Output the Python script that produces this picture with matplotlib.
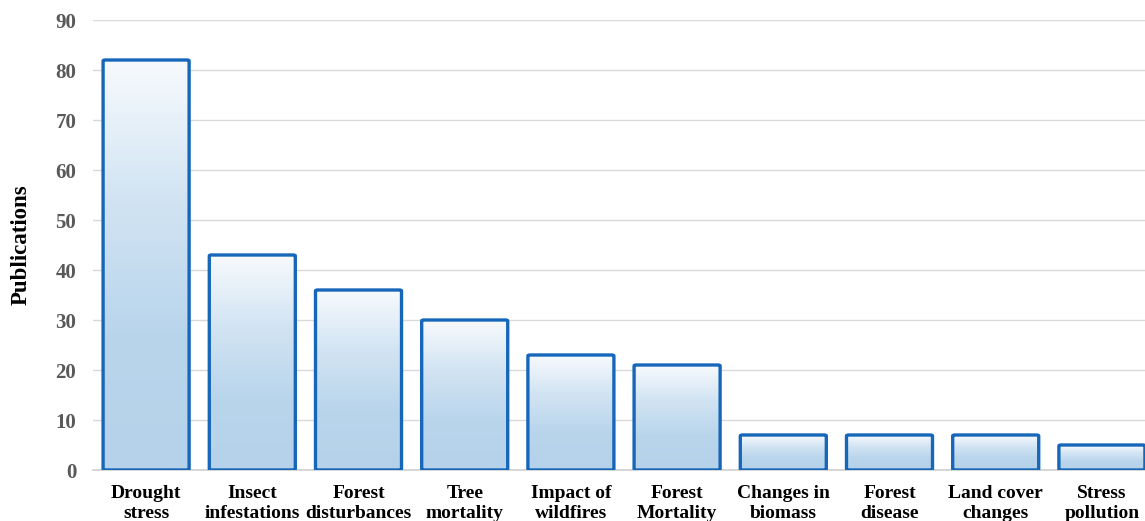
import matplotlib
matplotlib.use('Agg')

import matplotlib.pyplot as plt
import numpy as np
from matplotlib.patches import FancyBboxPatch
from matplotlib.colors import LinearSegmentedColormap

# ---- data ----
categories = ["Drought\nstress", "Insect\ninfestations", "Forest\ndisturbances",
              "Tree\nmortality", "Impact of\nwildfires", "Forest\nMortality",
              "Changes in\nbiomass", "Forest\ndisease", "Land cover\nchanges",
              "Stress\npollution"]
publications = [82, 43, 36, 30, 23, 21, 7, 7, 7, 5]
y_ticks = [0, 10, 20, 30, 40, 50, 60, 70, 80, 90]

plt.rcParams['font.family'] = ['Liberation Serif', 'DejaVu Serif']

W, H = 1145, 521
fig = plt.figure(figsize=(W / 100, H / 100), dpi=100)
# axes runs slightly off the right edge, like the cropped original
ax = fig.add_axes([93 / W, 51 / H, 1062 / W, 450 / H])

x = np.arange(len(categories))

# gradient: white on top, light blue lower down
grad = LinearSegmentedColormap.from_list(
    "bar", ["#b6d2ea", "#b9d5ec", "#d2e4f3", "#f7fafd"])
img = np.linspace(0, 1, 256).reshape(-1, 1)

bw = 0.81
for xi, v in zip(x, publications):
    box = FancyBboxPatch((xi - bw / 2, 0), bw, v,
                         boxstyle="round,pad=0,rounding_size=0.02",
                         facecolor="none", edgecolor="#1667b9",
                         linewidth=2.4, zorder=4, mutation_aspect=10)
    ax.add_patch(box)
    im = ax.imshow(img, cmap=grad, aspect="auto", origin="lower",
                   extent=(xi - bw / 2, xi + bw / 2, 0, v), zorder=3)
    im.set_clip_path(box)

ax.set_xlim(-0.5, len(categories) - 0.5)
ax.set_ylim(0, 90)

ax.set_yticks(y_ticks)
ax.yaxis.grid(True, color="#d9d9d9", linewidth=1.0)
ax.set_axisbelow(True)
for s in ["top", "right", "left"]:
    ax.spines[s].set_visible(False)
ax.spines["bottom"].set_color("#d0d0d0")
ax.spines["bottom"].set_linewidth(1.2)

ax.set_xticks(x)
ax.set_xticklabels(categories, fontsize=14, fontweight="bold", color="black",
                   linespacing=1.2)
ax.tick_params(axis="x", length=0, pad=11)
ax.tick_params(axis="y", length=0, pad=12, labelsize=15, labelcolor="#595959")
for t in ax.get_yticklabels():
    t.set_fontweight("bold")

ax.set_ylabel("Publications", fontsize=16.5, fontweight="bold", labelpad=17)

fig.savefig("out.png", dpi=100)
